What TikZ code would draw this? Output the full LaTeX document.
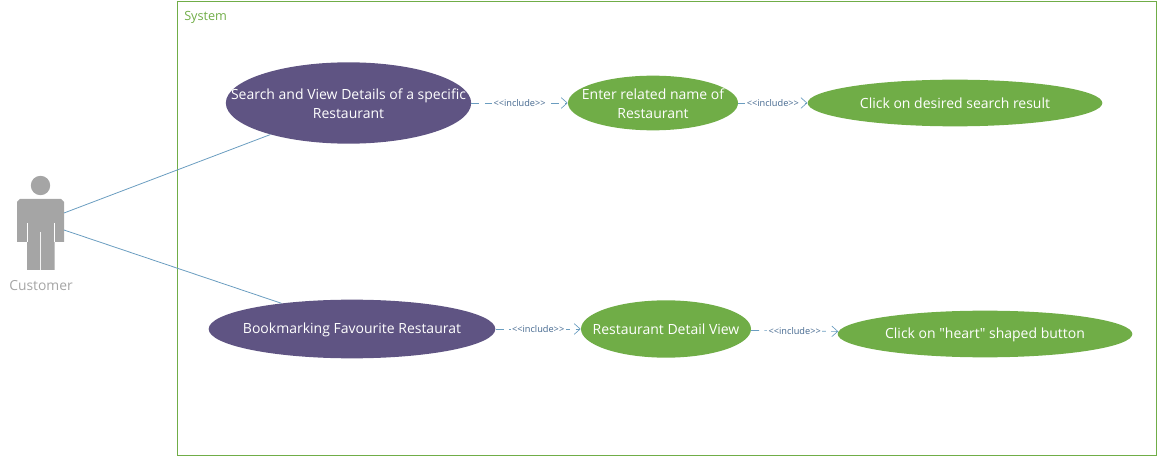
\documentclass[tikz,border=0pt]{standalone}
\usepackage{fontspec}
\setmainfont{Open Sans}
\newfontfamily\plainquote{Open Sans}
\usetikzlibrary{positioning}
\usetikzlibrary{arrows.meta}
\usetikzlibrary{shapes.geometric}
\definecolor{usegreen}{HTML}{70AD47}
\definecolor{usepurple}{HTML}{5F5483}
\definecolor{linkblue}{HTML}{6A9DC0}
\definecolor{labelblue}{HTML}{44688F}
\definecolor{actorgrey}{HTML}{A5A5A5}
\newcommand{\inctext}{\symbol{60}\symbol{60}include\symbol{62}\symbol{62}}
\tikzset{
  usecase/.style={ellipse,draw=none,inner sep=0pt},
  usetext/.style={text=white,font=\fontsize{10.5pt}{14.5pt}\selectfont,align=center,inner sep=0pt,yshift=-0.4pt},
  include/.style={draw=linkblue,line width=0.5pt,dashed,dash pattern=on 6pt off 4pt,-{Straight Barb[length=4.5pt,width=8pt]}},
  includetext/.style={text=labelblue,font=\fontsize{6.9pt}{8pt}\selectfont,fill=white,inner sep=1pt},
  assoc/.style={draw=linkblue,line width=0.6pt}
}
\begin{document}
\begin{tikzpicture}[x=0.75pt,y=-0.75pt]
\useasboundingbox (0,0) rectangle (1158,456);
% system boundary
\draw[usegreen,line width=0.6pt] (177,1) rectangle (1156,455);
\node[anchor=west,text=usegreen,font=\fontsize{9.5pt}{10pt}\selectfont,inner sep=0pt] (system) at (184,17) {System};
% actor
\fill[actorgrey] (40.5,185.5) circle (9.7);
\fill[actorgrey] (20,199) -- (61,199) -- (64,202) -- (64,242) -- (54.5,242) -- (54.5,270)
  -- (41,270) -- (41,232) -- (40,232) -- (40,270) -- (27,270) -- (27,242) -- (17,242) -- (17,202) -- cycle;
\draw[white,line width=0.5pt] (27,223) -- (27,242) (54.5,223) -- (54.5,242);
\node[text=actorgrey,font=\fontsize{10.4pt}{12pt}\selectfont,inner sep=0pt] (customer) at (41,286) {Customer};
\coordinate (armtop) at (64,213);
\coordinate (armlow) at (64,230);
% use cases, top row
\node[usecase,fill=usepurple,minimum width=184pt,minimum height=61pt,
  label={[usetext]center:Search and View Details of a specific\\Restaurant}] (search) at (348.5,103) {};
\node[usecase,fill=usegreen,minimum width=127.5pt,minimum height=41pt,
  label={[usetext]center:Enter related name of\\Restaurant}] (entername) at (653,103) {};
\node[usecase,fill=usegreen,minimum width=221pt,minimum height=35pt,
  label={[usetext]center:Click on desired search result}] (clickresult) at (955,103) {};
% use cases, bottom row
\node[usecase,fill=usepurple,minimum width=215pt,minimum height=44pt,
  label={[usetext]center:Bookmarking Favourite Restaurat}] (bookmark) at (352,329) {};
\node[usecase,fill=usegreen,minimum width=127.5pt,minimum height=43pt,
  label={[usetext]center:Restaurant Detail View}] (detailview) at (666,329) {};
\node[usecase,fill=usegreen,minimum width=221pt,minimum height=35pt,
  label={[usetext]center:Click on {\plainquote"}heart{\plainquote"} shaped button}] (clickheart) at (985,334) {};
% associations
\draw[assoc] (armtop) -- (search.202);
\draw[assoc] (armlow) -- (bookmark.160);
% includes
\draw[include] (search.east) -- node[includetext] (inca) {\inctext} (entername.west);
\draw[include] (entername.east) -- node[includetext] (incb) {\inctext} (clickresult.west);
\draw[include] (bookmark.east) -- node[includetext] (incc) {\inctext} (detailview.west);
\draw[include] (detailview.-1.5) -- node[includetext] (incd) {\inctext} (clickheart.179);
\end{tikzpicture}
\end{document}
